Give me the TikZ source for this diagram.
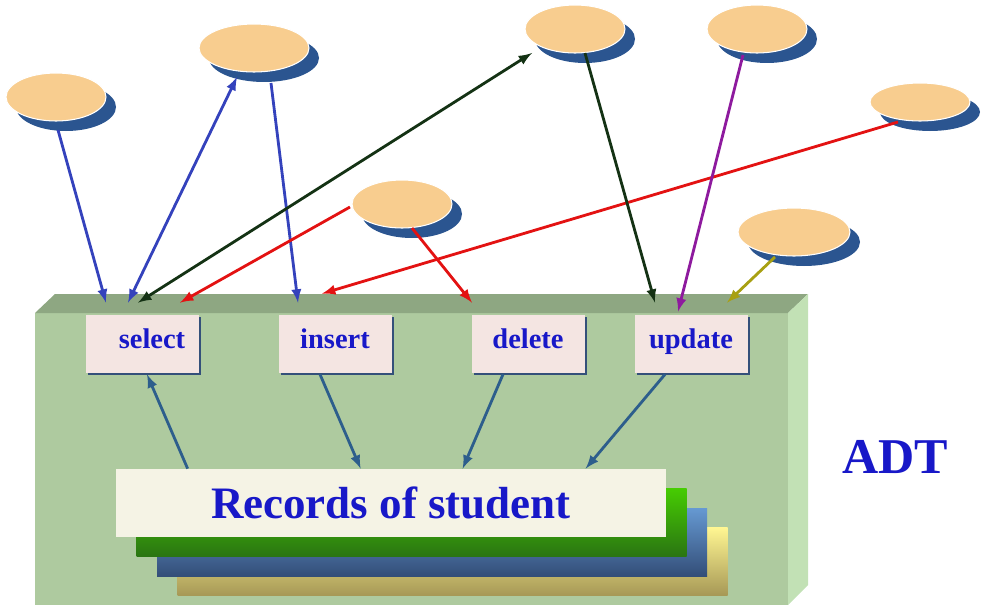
\documentclass[tikz,border=0pt]{standalone}
\usepackage{fontspec}
\setmainfont{Liberation Serif}
\usepackage{tikz}
\usetikzlibrary{calc,shapes.geometric,shadows,arrows}
\definecolor{peach}{HTML}{F8CD8F}
\definecolor{shadeblue}{HTML}{2B5590}
\definecolor{frontgreen}{HTML}{AECA9F}
\definecolor{topgreen}{HTML}{8EA782}
\definecolor{sidegreen}{HTML}{C2E1B5}
\definecolor{opfill}{HTML}{F4E5E2}
\definecolor{opline}{HTML}{34507A}
\definecolor{recfill}{HTML}{F5F3E5}
\definecolor{txtblue}{HTML}{1818C8}
\definecolor{arrblue}{HTML}{3442BC}
\definecolor{arrred}{HTML}{E31212}
\definecolor{arrdark}{HTML}{143214}
\definecolor{arrpurple}{HTML}{8E1A9E}
\definecolor{arrolive}{HTML}{A8A012}
\definecolor{arrsteel}{HTML}{2D5E8C}
\definecolor{greentop}{HTML}{46CC02}
\definecolor{greenbot}{HTML}{2A7412}
\definecolor{bluetop}{HTML}{6699D2}
\definecolor{bluebot}{HTML}{334E78}
\definecolor{yellowtop}{HTML}{FFF692}
\definecolor{yellowbot}{HTML}{A69856}

\tikzset{
    blob/.style={ellipse, fill=peach, draw=white, line width=0.6pt,
        minimum width=20mm, minimum height=9.6mm,
        drop shadow={shadow xshift=2mm, shadow yshift=-2mm, fill=shadeblue, opacity=1}},
    opbox/.style={rectangle, fill=opfill, minimum width=22.6mm, minimum height=11.6mm,
        text=txtblue, font=\fontsize{16.2}{18}\selectfont\bfseries,
        text height=3.6mm, text depth=2mm,
        drop shadow={shadow xshift=0.4mm, shadow yshift=-0.4mm, fill=opline, opacity=1}},
    link/.style={-latex, line width=1.6pt},
    both/.style={latex-latex, line width=1.6pt}
}

\begin{document}
\begin{tikzpicture}[x=0.2mm,y=-0.2mm]
        \useasboundingbox (0,0) rectangle (987,610);
        \fill[frontgreen] (35,313) rectangle (788,605);
        \fill[topgreen] (35,313) -- (55,294) -- (808,294) -- (788,313) -- cycle;
        \fill[sidegreen] (788,313) -- (808,294) -- (808,585) -- (788,605) -- cycle;
        \foreach \i/\tc/\bc in {3/yellowtop/yellowbot, 2/bluetop/bluebot, 1/greentop/greenbot}
        \shade[top color=\tc, bottom color=\bc] ($(116,469)+(\i*20.5,\i*19.5)$) rectangle ($(666,537)+(\i*20.5,\i*19.5)$);
        \node[fill=recfill, minimum width=110mm, minimum height=13.6mm, text=txtblue,
            font=\fontsize{25.6}{28}\selectfont\bfseries, text height=6.5mm, text depth=0.5mm]
            (rec) at (391,503) {Records of student};
        \node[opbox] (sel) at (142,344) {\hspace{4mm}select};
        \node[opbox] (ins) at (335,344) {insert};
        \node[opbox] (del) at (528,344) {delete};
        \node[opbox] (upd) at (691,344) {update};
        \node[text=txtblue, font=\fontsize{28.5}{32}\selectfont\bfseries] (adt) at (895,457) {ADT};
        \draw[link, arrsteel] ($(rec.north west)+(72,0)$) -- ($(sel.south)+(5,1)$);
        \draw[link, arrsteel] ($(ins.south)+(-15,1)$) -- ($(rec.north west)+(245,0)$);
        \draw[link, arrsteel] ($(del.south)+(-25,1)$) -- ($(rec.north west)+(347,0)$);
        \draw[link, arrsteel] ($(upd.south)+(-26,1)$) -- ($(rec.north west)+(470,0)$);
        \node[blob] (e1) at (56,97) {};
        \node[blob, minimum width=22mm] (e2) at (254,48) {};
        \node[blob] (e3) at (402,204) {};
        \node[blob] (e4) at (575,29) {};
        \node[blob] (e5) at (757,29) {};
        \node[blob, minimum height=7.6mm] (e6) at (920,102) {};
        \node[blob, minimum width=22.4mm] (e7) at (794,232) {};
        \draw[link, arrblue] ($(e1)+(2,33)$) -- ($(sel.north)+(-36,-12)$);
        \draw[both, arrblue] ($(sel.north)+(-14,-12)$) -- ($(e2)+(-17,29)$);
        \draw[link, arrblue] ($(e2)+(17,35)$) -- ($(ins.north)+(-37,-12)$);
        \draw[both, arrdark] ($(sel.north)+(-4,-12)$) -- ($(e4)+(-43,24)$);
        \draw[link, arrred] ($(e3)+(-52,3)$) -- ($(sel.north)+(38,-12)$);
        \draw[link, arrred] ($(e6)+(-22,20)$) -- ($(ins.north)+(-13,-21)$);
        \draw[link, arrred] ($(e3)+(10,24)$) -- ($(del.north)+(-56,-12)$);
        \draw[link, arrdark] ($(e4)+(10,24)$) -- ($(upd.north)+(-36,-12)$);
        \draw[link, arrpurple] ($(e5)+(-14,26)$) -- ($(upd.north)+(-13,-3)$);
        \draw[link, arrolive] ($(e7)+(-19,25)$) -- ($(upd.north)+(36,-12)$);
    \end{tikzpicture}
\end{document}
